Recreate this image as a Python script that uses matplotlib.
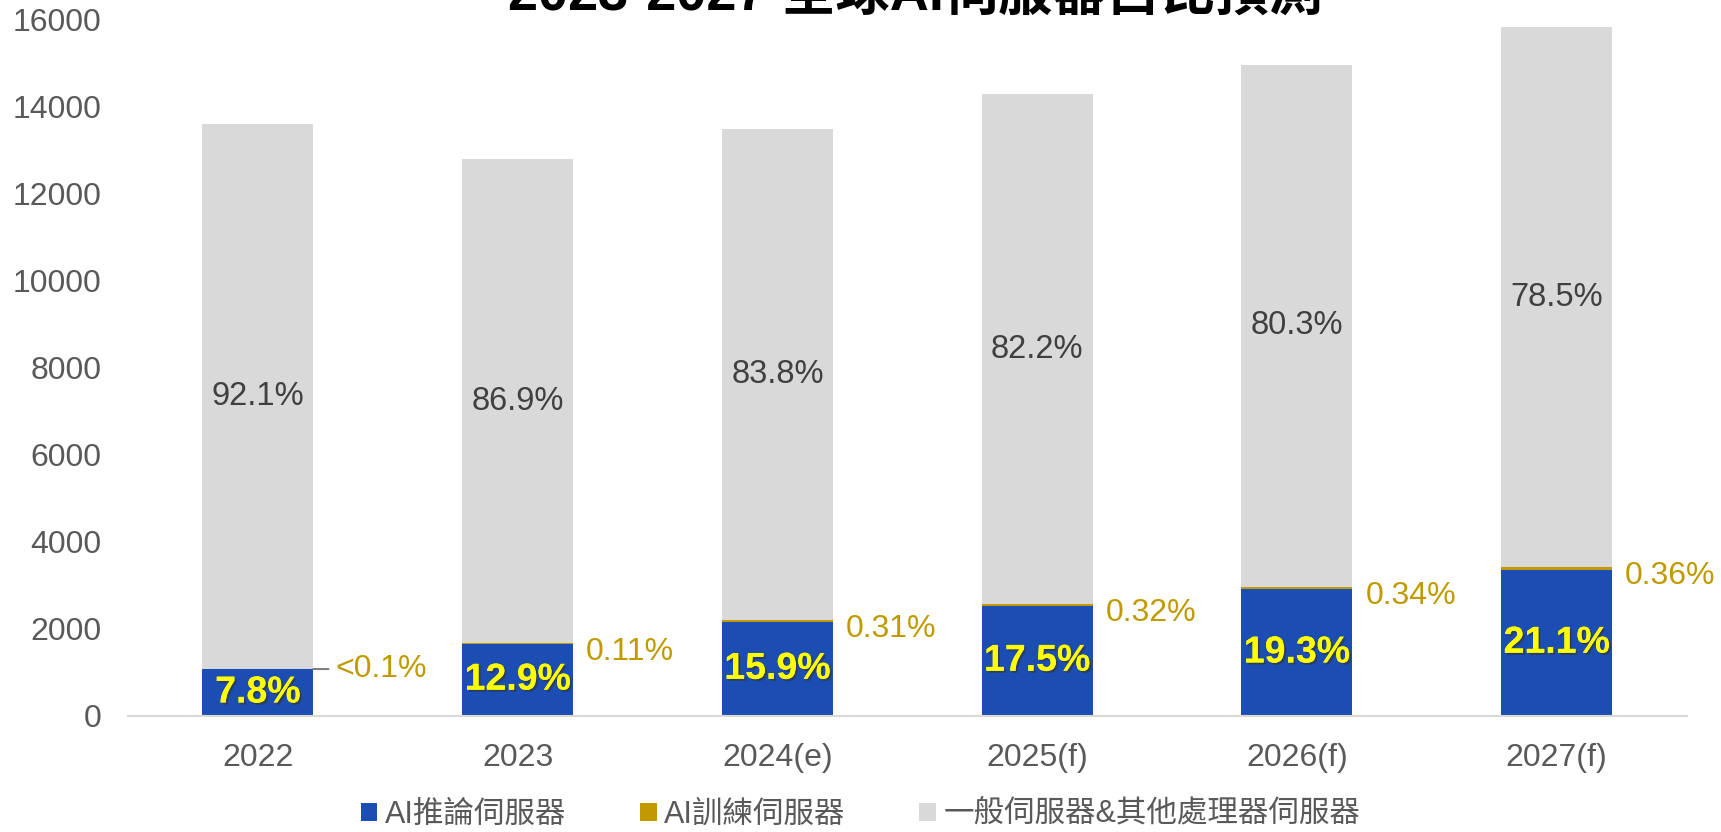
import matplotlib
matplotlib.use("Agg")
import matplotlib.pyplot as plt
import matplotlib.patheffects as pe
import numpy as np

# ---- data ----
categories = ["2022", "2023", "2024(e)", "2025(f)", "2026(f)", "2027(f)"]
inference = [1060, 1650, 2150, 2520, 2900, 3350]
training = [10, 15, 42, 46, 51, 57]
general = [12530, 11140, 11290, 11720, 12020, 12420]
inference_pct = ["7.8%", "12.9%", "15.9%", "17.5%", "19.3%", "21.1%"]
training_pct = ["<0.1%", "0.11%", "0.31%", "0.32%", "0.34%", "0.36%"]
general_pct = ["92.1%", "86.9%", "83.8%", "82.2%", "80.3%", "78.5%"]
series_names = ["AI推論伺服器", "AI訓練伺服器", "一般伺服器&其他處理器伺服器"]
title = "2023-2027 全球AI伺服器占比預測"

C_BLUE = "#1c4db3"
C_GOLD = "#c09a00"
C_GRAY = "#d9d9d9"
TXT = "#595959"

FONTS = ["Liberation Sans", "Noto Sans CJK TC", "DejaVu Sans"]
plt.rcParams["font.family"] = FONTS

fig = plt.figure(figsize=(17.21, 8.32), dpi=100)
ax = fig.add_axes([0.0744, 0.140, 0.9056, 0.836])

x = np.arange(len(categories))
w = 0.427
inf = np.array(inference)
tr = np.array(training)
gen = np.array(general)

b1 = ax.bar(x, inf, w, color=C_BLUE, label=series_names[0], zorder=2)
b2 = ax.bar(x, tr, w, bottom=inf, color=C_GOLD, label=series_names[1], zorder=2)
b3 = ax.bar(x, gen, w, bottom=inf + tr, color=C_GRAY, label=series_names[2], zorder=2)

ax.set_xlim(-0.5, len(categories) - 0.5)
ax.set_ylim(0, 16000)
ax.set_yticks(np.arange(0, 16001, 2000))
ax.set_xticks(x)
ax.set_xticklabels(categories)
ax.tick_params(axis="y", length=0, pad=19, labelsize=23, labelcolor=TXT)
ax.tick_params(axis="x", length=0, pad=20, labelsize=23, labelcolor=TXT)
for s in ["top", "right", "left"]:
    ax.spines[s].set_visible(False)
ax.spines["bottom"].set_color("#d9d9d9")
ax.spines["bottom"].set_linewidth(1.5)

shadow = [pe.withSimplePatchShadow(offset=(1.5, -1.5), shadow_rgbFace="#333333", alpha=0.6), pe.Normal()]

for i in range(len(categories)):
    # inference label
    ax.text(x[i], inf[i] / 2, inference_pct[i], ha="center", va="center",
            fontsize=27, fontweight="bold", color="#ffff00", path_effects=shadow, zorder=4)
    # general label
    ax.text(x[i], inf[i] + tr[i] + gen[i] / 2, general_pct[i], ha="center", va="center",
            fontsize=23.5, color="#404040", zorder=4)
    # training label
    top = inf[i] + tr[i]
    if i == 0:
        ax.annotate(training_pct[i], xy=(x[i] + w / 2, top), xytext=(x[i] + w / 2 + 0.085, top + 80),
                    ha="left", va="center_baseline", fontsize=23, color=C_GOLD,
                    arrowprops=dict(arrowstyle="-", color="#808080", lw=1.5,
                                    connectionstyle="angle,angleA=0,angleB=50,rad=0",
                                    shrinkA=3, shrinkB=0))
    else:
        ax.annotate(training_pct[i], xy=(x[i] + w / 2 + 0.05, top), xytext=(0, -4),
                    textcoords="offset points", ha="left", va="center_baseline",
                    fontsize=23, color=C_GOLD, zorder=4)

leg = fig.legend(handles=[b1, b2, b3], labels=series_names, loc="center",
                 bbox_to_anchor=(0.500, 0.021), ncol=3, frameon=False,
                 fontsize=22, handlelength=0.55, handleheight=0.55, handletextpad=0.25,
                 columnspacing=2.4)
for t in leg.get_texts():
    t.set_color(TXT)

fig.text(0.532, 0.988, title, ha="center", va="baseline", fontsize=39,
         fontweight="bold", color="black")

fig.savefig("out.png", dpi=100)
